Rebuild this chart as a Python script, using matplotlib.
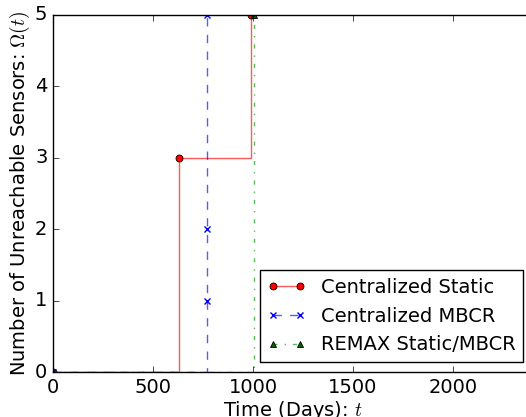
import matplotlib
matplotlib.use('Agg')
import matplotlib.pyplot as plt

plt.style.use('classic')

# step data (days, unreachable sensors)
static_t = [0, 630, 990]
static_y = [0, 3, 5]
mbcr_t = [0, 769, 769, 769]
mbcr_y = [0, 1, 2, 5]
remax_t = [0, 1005]
remax_y = [0, 5]

fig = plt.figure(figsize=(5.26, 4.17), dpi=100)
# axes runs a bit past the right edge of the figure, like the original
ax = fig.add_axes([53 / 526, 45 / 417, 480 / 526, 357 / 417])

ax.plot(static_t, static_y, '-', color=(1, 0, 0, 0.65), marker='o', markersize=5,
        drawstyle='steps-post', label='Centralized Static',
        markerfacecolor='red', markeredgecolor='black', markeredgewidth=0.6)
ax.plot(mbcr_t, mbcr_y, '--', color=(0, 0, 1, 0.65), marker='x', markersize=5,
        drawstyle='steps-post', label='Centralized MBCR',
        markeredgecolor='blue', markeredgewidth=1)
ax.plot(remax_t, remax_y, '-.', color=(0, 0.6, 0, 0.65), marker='^', markersize=5,
        drawstyle='steps-post', label='REMAX Static/MBCR',
        markerfacecolor='darkgreen', markeredgecolor='black', markeredgewidth=0.6)

ax.set_xlim(0, 2400)
ax.set_ylim(0, 5)
ax.set_xticks([0, 500, 1000, 1500, 2000])
ax.set_yticks([0, 1, 2, 3, 4, 5])
ax.tick_params(labelsize=14)
ax.set_xlabel('Time (Days): $t$', fontsize=14, labelpad=2)
ax.set_ylabel(r'Number of Unreachable Sensors: $\Omega(t)$', fontsize=14, labelpad=2)
ax.legend(loc='lower right', fontsize=14, numpoints=2, borderaxespad=0.5,
          handlelength=2.0, handletextpad=0.75, labelspacing=0.5, borderpad=0.4)

fig.savefig('out.png', dpi=100)
